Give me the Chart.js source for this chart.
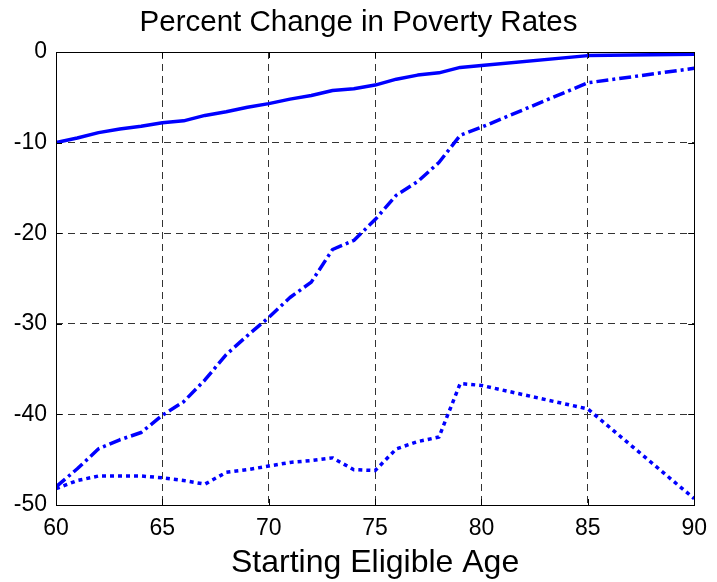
<!DOCTYPE html>
<html>
<head>
<meta charset="utf-8">
<title>Percent Change in Poverty Rates</title>
<script src="https://cdn.jsdelivr.net/npm/chart.js@4"></script>
<style>
  html, body { margin: 0; padding: 0; background: #fff; }
  #wrap { width: 717px; height: 582px; }
</style>
</head>
<body>
<div id="wrap"><canvas id="povertyChart" width="717" height="582"></canvas></div>
<script>
// Starting eligible age (x) and percent change series
const ages = [60, 61, 62, 63, 64, 65, 66, 67, 68, 69, 70, 71, 72, 73, 74, 75, 76, 77, 78, 79, 80, 85, 90];
const solidSeries = [-10.0, -9.5, -8.9, -8.5, -8.2, -7.8, -7.6, -7.0, -6.6, -6.1, -5.7, -5.2, -4.8, -4.25, -4.05, -3.65, -3.0, -2.55, -2.3, -1.7, -1.5, -0.4, -0.25];
const dashDotSeries = [-48.0, -46.0, -43.8, -42.8, -42.0, -40.1, -38.6, -36.2, -33.4, -31.3, -29.3, -27.1, -25.4, -21.8, -20.8, -18.5, -15.8, -14.3, -12.2, -9.2, -8.3, -3.4, -1.8];
const dottedSeries = [-48.2, -47.3, -46.8, -46.8, -46.8, -47.0, -47.3, -47.7, -46.4, -46.1, -45.7, -45.3, -45.1, -44.8, -46.1, -46.2, -43.8, -43.0, -42.5, -36.6, -36.8, -39.4, -49.3];
const xTicks = [60, 65, 70, 75, 80, 85, 90];
const yTicks = [0, -10, -20, -30, -40, -50];

const FONT = "'Liberation Sans', Arial, Helvetica, sans-serif";

function toPoints(values) {
  return ages.map((a, i) => ({ x: a, y: values[i] }));
}

// MATLAB style box with inward tick marks
const boxPlugin = {
  id: "box",
  afterDatasetsDraw(chart) {
    const { ctx, chartArea: a, scales } = chart;
    ctx.save();
    ctx.strokeStyle = "#000";
    ctx.lineWidth = 1;
    ctx.setLineDash([]);
    ctx.beginPath();
    xTicks.forEach(t => {
      const px = Math.round(scales.x.getPixelForValue(t)) + 0.5;
      ctx.moveTo(px, a.bottom); ctx.lineTo(px, a.bottom - 6);
      ctx.moveTo(px, a.top); ctx.lineTo(px, a.top + 6);
    });
    yTicks.forEach(t => {
      const py = Math.round(scales.y.getPixelForValue(t)) + 0.5;
      ctx.moveTo(a.left, py); ctx.lineTo(a.left + 6, py);
      ctx.moveTo(a.right, py); ctx.lineTo(a.right - 6, py);
    });
    ctx.stroke();
    ctx.strokeRect(Math.round(a.left) + 0.5, Math.round(a.top) + 0.5,
      Math.round(a.right - a.left), Math.round(a.bottom - a.top));
    ctx.restore();
  }
};

const ctx = document.getElementById("povertyChart");

new Chart(ctx, {
  type: "line",
  data: {
    datasets: [
      { data: toPoints(solidSeries), borderColor: "#0000ff", borderWidth: 3.5 },
      { data: toPoints(dashDotSeries), borderColor: "#0000ff", borderWidth: 3.5, borderDash: [12, 4, 3, 4] },
      { data: toPoints(dottedSeries), borderColor: "#0000ff", borderWidth: 3.5, borderDash: [4, 4] }
    ]
  },
  options: {
    responsive: false,
    animation: false,
    layout: { padding: 0 },
    elements: {
      point: { radius: 0 },
      line: { tension: 0, borderCapStyle: "butt", borderJoinStyle: "round", fill: false }
    },
    plugins: {
      legend: { display: false },
      tooltip: { enabled: false },
      title: {
        display: true,
        text: "Percent Change in Poverty Rates",
        color: "#000",
        font: { family: FONT, size: 29.5, weight: "normal" },
        padding: { top: 5, bottom: 11.6 }
      }
    },
    scales: {
      x: {
        type: "linear",
        min: 60,
        max: 90,
        afterBuildTicks: s => { s.ticks = xTicks.map(v => ({ value: v })); },
        afterFit: s => { s.height = 77; },
        ticks: { color: "#000", font: { family: FONT, size: 23 }, padding: 10, maxRotation: 0 },
        grid: { color: "#333", lineWidth: 1, drawTicks: false },
        border: { display: false, dash: [7, 5] },
        title: {
          display: true,
          text: "Starting Eligible Age",
          color: "#000",
          font: { family: FONT, size: 32 },
          padding: { top: 0, bottom: 0 }
        }
      },
      y: {
        min: -50,
        max: 0,
        afterBuildTicks: s => { s.ticks = yTicks.map(v => ({ value: v })); },
        afterFit: s => { s.width = 56; },
        ticks: { color: "#000", font: { family: FONT, size: 23 }, padding: 9 },
        grid: { color: "#333", lineWidth: 1, drawTicks: false },
        border: { display: false, dash: [7, 5] }
      },
      // empty right-hand axis that only reserves the right margin
      yRight: {
        position: "right",
        min: -50,
        max: 0,
        afterFit: s => { s.width = 20; },
        ticks: { display: false },
        grid: { display: false, drawTicks: false },
        border: { display: false }
      }
    }
  },
  plugins: [boxPlugin]
});
</script>
</body>
</html>
